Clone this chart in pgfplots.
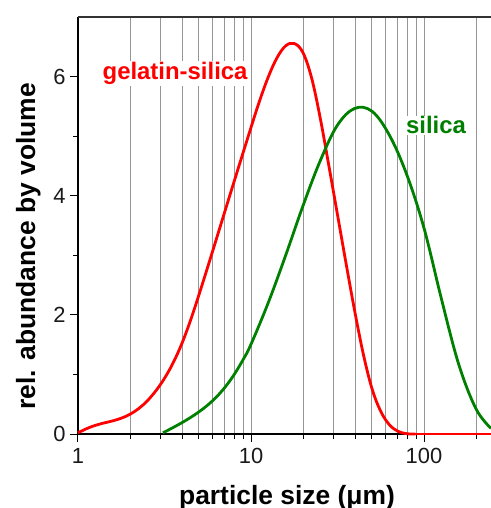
\documentclass[border=0pt]{standalone}
\usepackage{fontspec}
\setmainfont{Liberation Sans}
\usepackage{pgfplots}
\pgfplotsset{compat=1.18}
\definecolor{myred}{RGB}{255,0,0}
\definecolor{mygreen}{RGB}{0,128,0}
\definecolor{gridgray}{RGB}{150,150,150}
\begin{document}
\begin{tikzpicture}
\begin{axis}[
  at={(0,0)}, anchor=south west,
  scale only axis, width=413bp, height=417bp,
  xmode=log, log basis x=10,
  xmin=1, xmax=243.9, ymin=0, ymax=7,
  axis x line*=bottom, axis y line*=left,
  axis line style={black, line width=1.3bp, -},
  xtick={1,10,100}, xticklabels={1,10,100},
  minor xtick={2,3,4,5,6,7,8,9,20,30,40,50,60,70,80,90,200},
  ytick={0,2,4,6}, minor ytick={1,3,5},
  tick align=outside,
  major tick length=8bp, minor tick length=5bp,
  every tick/.style={black, line width=1bp},
  xmajorgrids, xminorgrids,
  grid style={gridgray, line width=0.9bp},
  /pgf/number format/assume math mode=true,
  tick label style={font=\fontsize{22}{26}\selectfont, text=black!90},
  xticklabel style={yshift=-3bp},
  yticklabel style={xshift=-1bp},
  xlabel={\textbf{particle size (μm)}},
  ylabel={\textbf{rel. abundance by volume}},
  xlabel style={font=\fontsize{26.5}{30}\selectfont, at={(axis description cs:0.506,0)}, anchor=base, yshift=-70bp},
  ylabel style={font=\fontsize{26.5}{30}\selectfont, at={(axis description cs:-0.104,0.45)}, anchor=base, rotate=0},
  clip=false,
]
\addplot[myred, line width=2.8bp, smooth, tension=0.6] coordinates {
(1,0.02) (1.122,0.09) (1.259,0.145) (1.413,0.185) (1.585,0.22) (1.778,0.265) (1.995,0.33) (2.239,0.425) (2.512,0.555) (2.818,0.725) (3.162,0.935) (3.548,1.195) (3.981,1.515) (4.467,1.905) (5.012,2.345) (5.623,2.805) (6.310,3.275) (7.943,4.215) (10,5.145) (11.22,5.595) (12.59,5.995) (14.13,6.315) (15.85,6.515) (17.78,6.555) (19.95,6.405) (22.39,5.98) (25.12,5.305) (28.18,4.505) (31.62,3.68) (35.48,2.855) (39.81,2.055) (44.67,1.33) (50.12,0.755) (56.23,0.38) (63.10,0.155) (70.79,0.045) (79.43,0.005) (89.13,0)};
\addplot[myred, line width=2.8bp] coordinates {(89.13,0) (243.9,0)};
\addplot[mygreen, line width=2.8bp, smooth, tension=0.6] coordinates {
(3.10,0.02) (3.548,0.109) (3.981,0.189) (4.467,0.276) (5.012,0.374) (5.623,0.486) (6.310,0.621) (7.079,0.786) (7.943,0.986) (8.913,1.226) (10,1.506) (12.589,2.206) (15.849,2.996) (19.953,3.826) (25.119,4.586) (31.623,5.186) (39.811,5.466) (50.119,5.416) (63.096,5.016) (79.433,4.356) (100,3.456) (125.89,2.276) (158.49,1.176) (199.53,0.426) (243.9,0.095)};
\node[fill=white, inner sep=1bp, text=myred, font=\bfseries\fontsize{24}{28}\selectfont] at (axis cs:3.64,6.05) {gelatin-silica};
\node[fill=white, inner sep=1bp, text=mygreen, font=\bfseries\fontsize{24}{28}\selectfont] at (axis cs:117.3,5.18) {silica};
\draw[black!80, line width=1.3bp] (rel axis cs:0,1) -- (rel axis cs:1,1);
\end{axis}
\pgfresetboundingbox
\path (-78bp,-74bp) rectangle (413bp,434bp);
\end{tikzpicture}
\end{document}
